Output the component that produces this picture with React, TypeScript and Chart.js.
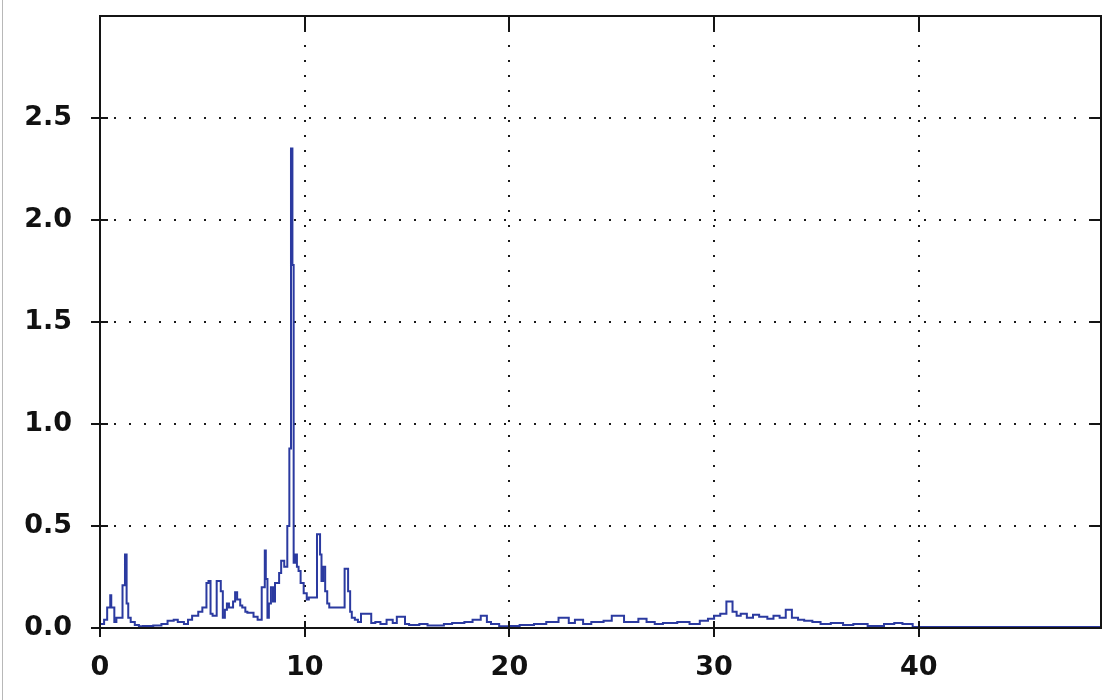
import React, { useEffect, useRef } from "react";
import { Chart, registerables } from "chart.js";

Chart.register(...registerables);

// Spectrum sample positions (x) and amplitudes (y), stepped trace
const freqs: number[] = [
  0.0, 0.2, 0.35, 0.5, 0.55, 0.7, 0.8, 1.1, 1.22, 1.3, 1.38, 1.5, 1.7, 1.9, 2.1, 2.6, 3.0, 3.3, 3.6, 3.8,
  4.1, 4.3, 4.5, 4.8, 5.0, 5.2, 5.3, 5.4, 5.5, 5.7, 5.9, 6.0, 6.1, 6.2, 6.3, 6.5, 6.6, 6.7, 6.85, 6.95,
  7.1, 7.2, 7.5, 7.7, 7.9, 8.05, 8.1, 8.18, 8.25, 8.35, 8.45, 8.55, 8.75, 8.85, 9.0, 9.15, 9.25, 9.33, 9.4, 9.46,
  9.55, 9.62, 9.7, 9.8, 9.95, 10.1, 10.2, 10.6, 10.75, 10.82, 10.9, 11.0, 11.1, 11.2, 11.4, 11.95, 12.12, 12.22, 12.3, 12.45,
  12.6, 12.75, 13.25, 13.45, 13.7, 14.0, 14.3, 14.5, 14.9, 15.1, 15.6, 16.0, 16.8, 17.2, 17.8, 18.2, 18.6, 18.9, 19.1, 19.5,
  20.0, 20.5, 21.2, 21.8, 22.4, 22.9, 23.2, 23.6, 24.0, 24.6, 25.0, 25.6, 25.9, 26.3, 26.7, 27.1, 27.5, 28.2, 28.8, 29.3,
  29.7, 30.0, 30.3, 30.6, 30.9, 31.1, 31.3, 31.6, 31.9, 32.2, 32.6, 32.9, 33.2, 33.5, 33.8, 34.1, 34.4, 34.8, 35.2, 35.7,
  36.3, 36.8, 37.5, 38.3, 38.8, 39.2, 39.7, 40.1, 48.9,
];

const amplitudes: number[] = [
  0.005, 0.02, 0.04, 0.1, 0.16, 0.1, 0.03, 0.05, 0.21, 0.36, 0.12, 0.05, 0.03, 0.015, 0.008, 0.01, 0.012, 0.02, 0.035, 0.04,
  0.03, 0.02, 0.04, 0.06, 0.08, 0.1, 0.22, 0.23, 0.07, 0.06, 0.23, 0.18, 0.05, 0.09, 0.12, 0.1, 0.13, 0.175, 0.14, 0.11,
  0.1, 0.08, 0.075, 0.055, 0.04, 0.2, 0.38, 0.24, 0.05, 0.12, 0.2, 0.13, 0.22, 0.27, 0.33, 0.3, 0.5, 0.88, 2.35, 1.78,
  0.32, 0.36, 0.3, 0.28, 0.22, 0.17, 0.14, 0.15, 0.46, 0.36, 0.23, 0.3, 0.18, 0.12, 0.1, 0.1, 0.29, 0.18, 0.08, 0.05,
  0.04, 0.03, 0.07, 0.025, 0.03, 0.02, 0.04, 0.025, 0.055, 0.02, 0.015, 0.02, 0.012, 0.02, 0.025, 0.03, 0.04, 0.06, 0.03, 0.02,
  0.008, 0.01, 0.015, 0.02, 0.03, 0.05, 0.025, 0.04, 0.02, 0.03, 0.035, 0.06, 0.03, 0.03, 0.045, 0.03, 0.02, 0.025, 0.03, 0.02,
  0.035, 0.045, 0.06, 0.07, 0.13, 0.08, 0.06, 0.07, 0.05, 0.065, 0.055, 0.045, 0.06, 0.05, 0.09, 0.05, 0.04, 0.035, 0.03, 0.02,
  0.025, 0.015, 0.02, 0.01, 0.02, 0.025, 0.02, 0.005, 0.005,
];

const xTickValues: number[] = [0, 10, 20, 30, 40];
const yTickValues: number[] = [0, 0.5, 1.0, 1.5, 2.0, 2.5];

const frameGridPlugin = {
  id: "frameGrid",
  beforeDraw(chart: any) {
    const ctx = chart.ctx;
    ctx.save();
    ctx.fillStyle = "#ffffff";
    ctx.fillRect(0, 0, chart.width, chart.height);
    ctx.fillStyle = "#b8b8b8";
    ctx.fillRect(2, 0, 1, chart.height);
    ctx.restore();
  },
  beforeDatasetsDraw(chart: any) {
    const ctx = chart.ctx;
    const { left, right, top, bottom } = chart.chartArea;
    const xs = chart.scales.x;
    const ys = chart.scales.y;
    ctx.save();
    ctx.fillStyle = "#1a1a1a";
    yTickValues.forEach((v) => {
      if (v === 0) return;
      const py = Math.round(ys.getPixelForValue(v));
      for (let px = left + 15; px < right - 6; px += 15) {
        ctx.fillRect(px - 1, py - 1, 2, 2);
      }
    });
    xTickValues.forEach((v) => {
      if (v === 0) return;
      const px = Math.round(xs.getPixelForValue(v));
      for (let py = top + 15; py < bottom - 4; py += 15) {
        ctx.fillRect(px - 1, py - 1, 2, 2);
      }
    });
    ctx.restore();
  },
  afterDraw(chart: any) {
    const ctx = chart.ctx;
    const { left, right, top, bottom } = chart.chartArea;
    const xs = chart.scales.x;
    const ys = chart.scales.y;
    ctx.save();
    ctx.strokeStyle = "#141414";
    ctx.lineWidth = 2;
    ctx.strokeRect(left, top, right - left, bottom - top);
    ctx.beginPath();
    yTickValues.forEach((v) => {
      const py = Math.round(ys.getPixelForValue(v));
      ctx.moveTo(left - 9, py);
      ctx.lineTo(left + 8, py);
      ctx.moveTo(right - 10, py);
      ctx.lineTo(right, py);
    });
    xTickValues.forEach((v) => {
      const px = Math.round(xs.getPixelForValue(v));
      ctx.moveTo(px, bottom - 7);
      ctx.lineTo(px, bottom + 9);
      ctx.moveTo(px, top);
      ctx.lineTo(px, top + 14);
    });
    ctx.stroke();
    ctx.restore();
  },
};

export default function App() {
  const canvasRef = useRef<HTMLCanvasElement | null>(null);

  useEffect(() => {
    if (!canvasRef.current) return;
    const points = freqs.map((f, i) => ({ x: f, y: amplitudes[i] }));
    const tickFont = { family: "'DejaVu Sans', Verdana, sans-serif", size: 27, weight: "bold" as const };
    const chart = new Chart(canvasRef.current, {
      type: "line",
      data: {
        datasets: [
          {
            data: points,
            borderColor: "#2b3aa0",
            borderWidth: 2,
            pointRadius: 0,
            stepped: "after",
            fill: false,
          },
        ],
      },
      options: {
        animation: false,
        responsive: false,
        layout: { padding: { top: 16, right: 15, left: 0, bottom: 0 } },
        plugins: { legend: { display: false }, tooltip: { enabled: false } },
        scales: {
          x: {
            type: "linear",
            min: 0,
            max: 48.9,
            grid: { display: false, drawTicks: false },
            border: { display: false },
            afterFit: (scale: any) => {
              scale.height = 72;
              scale.paddingLeft = 0;
              scale.paddingRight = 0;
            },
            ticks: {
              stepSize: 10,
              includeBounds: false,
              padding: 24,
              color: "#111",
              font: tickFont,
              maxRotation: 0,
              callback: (v: any) => (xTickValues.includes(Number(v)) ? String(v) : ""),
            },
          },
          y: {
            type: "linear",
            min: 0,
            max: 3,
            grid: { display: false, drawTicks: false },
            border: { display: false },
            afterFit: (scale: any) => {
              scale.width = 100;
              scale.paddingTop = 0;
              scale.paddingBottom = 0;
            },
            ticks: {
              stepSize: 0.5,
              padding: 28,
              color: "#111",
              font: tickFont,
              callback: (v: any) => (Number(v) >= 3 ? "" : Number(v).toFixed(1)),
            },
          },
        },
      },
      plugins: [frameGridPlugin],
    });
    return () => chart.destroy();
  }, []);

  return (
    <div style={{ position: "absolute", left: 0, top: 0, width: 1116, height: 700, background: "#fff" }}>
      <canvas ref={canvasRef} width={1116} height={700} />
    </div>
  );
}
